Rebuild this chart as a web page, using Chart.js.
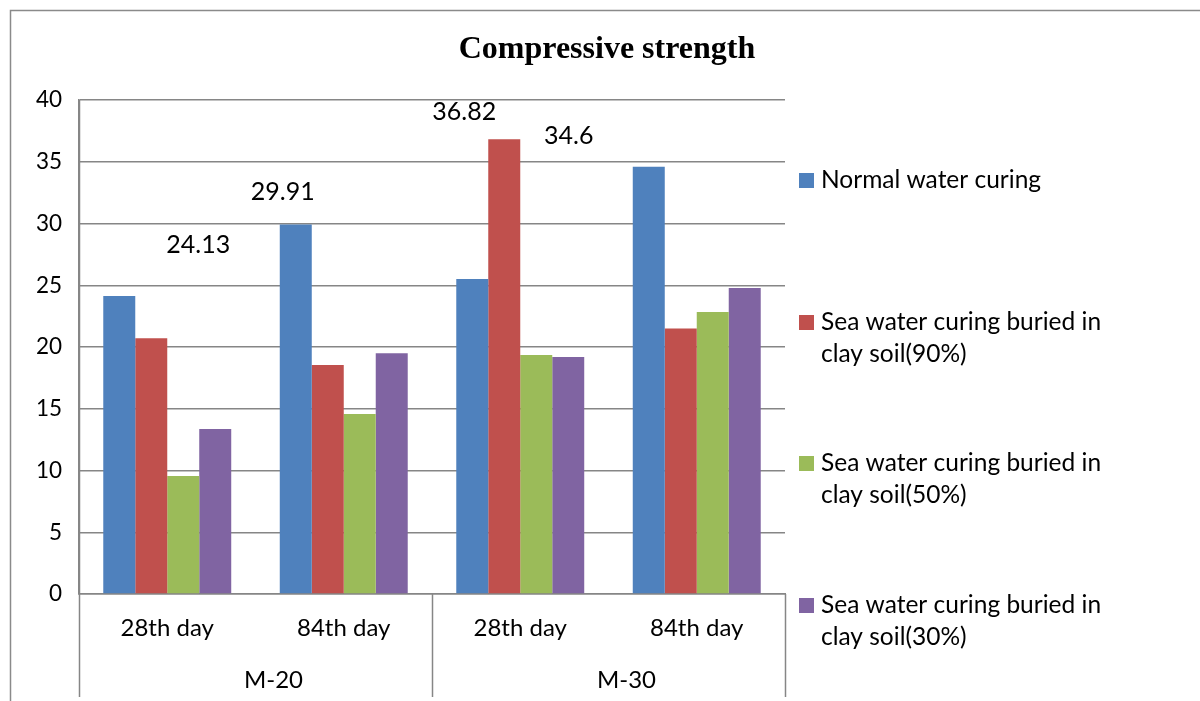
<!DOCTYPE html>
<html>
<head>
<meta charset="utf-8">
<script src="https://cdn.jsdelivr.net/npm/chart.js@4"></script>
<style>
  html, body { margin: 0; padding: 0; background: #fff; }
  #wrap { width: 1200px; height: 701px; }
</style>
</head>
<body>
<div id="wrap"><canvas id="chart" width="1200" height="701"></canvas></div>
<script>
const categories = ['28th day', '84th day', '28th day', '84th day'];
const groups = ['M-20', 'M-30'];
const seriesNames = [
    ['Normal water curing'],
    ['Sea water curing buried in', 'clay soil(90%)'],
    ['Sea water curing buried in', 'clay soil(50%)'],
    ['Sea water curing buried in', 'clay soil(30%)']
];
const normalWater = [24.13, 29.91, 25.5, 34.6];
const seaWater90 = [20.7, 18.54, 36.82, 21.5];
const seaWater50 = [9.55, 14.57, 19.35, 22.83];
const seaWater30 = [13.36, 19.5, 19.2, 24.78];
const yTicks = [0, 5, 10, 15, 20, 25, 30, 35, 40];

const colors = ['#4f81bd', '#c0504d', '#9bbb59', '#8064a2'];
const FONT = 'Lato, "Noto Sans", sans-serif';

// which bars carry a value label, and how far the label sits from the bar top
const valueLabels = [
    { ds: 0, i: 0, dx: 79, dy: -51 },
    { ds: 0, i: 1, dx: -13, dy: -33 },
    { ds: 1, i: 2, dx: -40, dy: -27 },
    { ds: 0, i: 3, dx: -80, dy: -31 }
];

const extras = {
    id: 'extras',
    afterDraw(chart) {
        const ctx = chart.ctx;
        const area = chart.chartArea;
        const x = chart.scales.x;
        ctx.save();

        // outer frame (left + top)
        ctx.strokeStyle = '#8a8a8a';
        ctx.lineWidth = 1.5;
        ctx.beginPath();
        ctx.moveTo(10.5, 701);
        ctx.lineTo(10.5, 10.5);
        ctx.lineTo(1200, 10.5);
        ctx.stroke();

        // title
        ctx.fillStyle = '#000';
        ctx.font = 'bold 32px "Liberation Serif", serif';
        ctx.textAlign = 'center';
        ctx.textBaseline = 'middle';
        ctx.fillText('Compressive strength', 607, 50);

        // two level category axis
        ctx.strokeStyle = '#868686';
        ctx.lineWidth = 1.5;
        const half = (x.getPixelForValue(1) - x.getPixelForValue(0)) / 2;
        const seps = [area.left, x.getPixelForValue(1) + half, area.right];
        seps.forEach((sx, k) => {
            ctx.beginPath();
            ctx.moveTo(Math.round(sx) + 0.5, k === 0 ? area.top : area.bottom);
            ctx.lineTo(Math.round(sx) + 0.5, area.bottom + 103);
            ctx.stroke();
        });
        ctx.font = '24px ' + FONT;
        ctx.fillStyle = '#000';
        categories.forEach((c, i) => {
            ctx.fillText(c, x.getPixelForValue(i), area.bottom + 34);
        });
        groups.forEach((g, k) => {
            const cx = (seps[k] + seps[k + 1]) / 2;
            ctx.fillText(g, cx + 18, area.bottom + 86);
        });

        // value labels
        ctx.font = '25px ' + FONT;
        valueLabels.forEach(l => {
            const bar = chart.getDatasetMeta(l.ds).data[l.i];
            const v = chart.data.datasets[l.ds].data[l.i];
            ctx.fillText(String(v), bar.x + l.dx, bar.y + l.dy);
        });

        // legend
        ctx.textAlign = 'left';
        ctx.font = '24.5px ' + FONT;
        const legendY = [180, 338, 479, 621];
        seriesNames.forEach((lines, k) => {
            const first = legendY[k] - (lines.length - 1) * 16;
            ctx.fillStyle = colors[k];
            ctx.fillRect(799, first - 7, 15, 15);
            ctx.fillStyle = '#000';
            lines.forEach((t, j) => ctx.fillText(t, 821, first + j * 32));
        });
        ctx.restore();
    }
};

new Chart(document.getElementById('chart'), {
    type: 'bar',
    data: {
        labels: categories,
        datasets: [
            { label: seriesNames[0].join(' '), data: normalWater, backgroundColor: colors[0] },
            { label: seriesNames[1].join(' '), data: seaWater90, backgroundColor: colors[1] },
            { label: seriesNames[2].join(' '), data: seaWater50, backgroundColor: colors[2] },
            { label: seriesNames[3].join(' '), data: seaWater30, backgroundColor: colors[3] }
        ]
    },
    options: {
        responsive: false,
        animation: false,
        layout: { padding: { left: 10, right: 415, top: 100, bottom: 107 } },
        datasets: { bar: { categoryPercentage: 0.725, barPercentage: 1 } },
        plugins: { legend: { display: false }, title: { display: false }, tooltip: { enabled: false } },
        scales: {
            x: {
                grid: { display: false, drawTicks: false },
                border: { display: true, color: '#868686', width: 1.5 },
                ticks: { display: false },
                afterFit(scale) { scale.height = 0; }
            },
            y: {
                min: 0,
                max: 40,
                afterBuildTicks(scale) { scale.ticks = yTicks.map(v => ({ value: v })); },
                grid: { color: '#868686', lineWidth: 1.5, drawTicks: false },
                border: { display: true, color: '#868686', width: 1.5 },
                ticks: { color: '#000', font: { family: FONT, size: 22.5 }, padding: 17 },
                afterFit(scale) { scale.width = 69; }
            }
        }
    },
    plugins: [extras]
});
</script>
</body>
</html>
